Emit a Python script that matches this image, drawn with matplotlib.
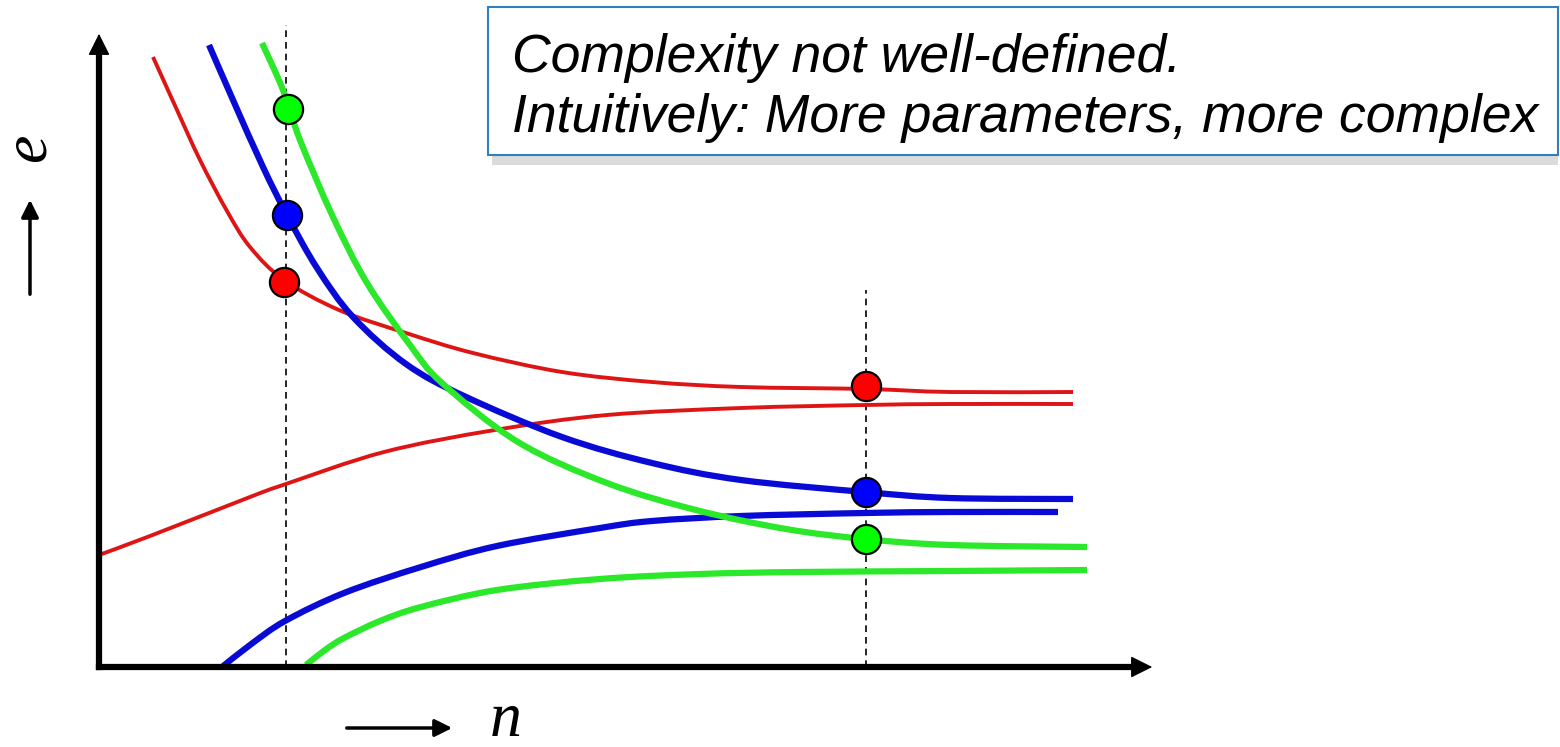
#!/usr/bin/env python3
"""
Learning curves sketch: test / training error vs. number of samples
for three models of growing complexity.
"""

import matplotlib
matplotlib.use('Agg')
import matplotlib.pyplot as plt
import numpy as np
from matplotlib.patches import Rectangle, PathPatch
from matplotlib.path import Path

# Data (n = sample size, e = error, both in sketch units)
red_test_n = [54, 78, 101, 128, 151, 185, 240, 307, 374, 463, 553, 642, 767, 851, 974]
red_test_e = [610, 557, 507, 456, 420, 387, 357, 334, 314, 295, 285, 280, 278, 275, 275]
red_train_n = [0, 51, 151, 184, 285, 396, 508, 642, 766, 851, 974]
red_train_e = [112, 131, 170, 182, 215, 237, 252, 259, 262, 263, 263]

blue_test_n = [110, 134, 164, 188, 218, 254, 307, 365, 463, 553, 642, 766, 851, 974]
blue_test_e = [622, 567, 500, 452, 399, 350, 303, 271, 230, 204, 187, 175, 169, 168]
blue_train_n = [123, 151, 186, 245, 322, 398, 501, 553, 642, 766, 851, 959]
blue_train_e = [0, 22, 46, 74, 100, 121, 139, 146, 151, 154, 155, 155]

green_test_n = [163, 184, 201, 234, 268, 311, 343, 419, 508, 597, 687, 766, 851, 988]
green_test_e = [624, 577, 527, 450, 384, 322, 284, 225, 184, 157, 138, 128, 122, 120]
green_train_n = [207, 226, 245, 281, 322, 398, 501, 601, 701, 851, 988]
green_train_e = [2, 17, 29, 46, 60, 77, 88, 93, 95, 96, 97]

# sample sizes that are compared, and the test error of each model there
n_small, n_large = 187, 767
marker_n = [189, 188, 185, 767, 767, 767]
marker_e = [558, 452, 385, 281, 175, 128]
marker_colors = ['#00ff00', '#0000ff', '#ff0000', '#ff0000', '#0000ff', '#00ff00']

box_lines = ['Complexity not well-defined.',
             'Intuitively: More parameters, more complex']


def smooth_curve(ax, xs, ys, color, lw):
	"""draw a smooth bezier (catmull-rom) through the given points"""
	p = np.column_stack([xs, ys]).astype(float)
	p = np.vstack([p[0], p, p[-1]])
	verts = [p[1]]
	codes = [Path.MOVETO]
	for i in range(1, len(p) - 2):
		c1 = p[i] + (p[i + 1] - p[i - 1]) / 6.0
		c2 = p[i + 1] - (p[i + 2] - p[i]) / 6.0
		verts += [c1, c2, p[i + 1]]
		codes += [Path.CURVE4] * 3
	ax.add_patch(PathPatch(Path(verts, codes), fill=False, edgecolor=color,
						   lw=lw, capstyle='butt', zorder=2))


def main():
	fig = plt.figure(figsize=(15.6, 7.47), dpi=100)
	ax = fig.add_axes([0, 0, 1, 1])
	ax.set_xlim(-99, 1461)
	ax.set_ylim(-80, 667)
	ax.axis('off')

	# dashed guides
	ax.plot([n_small, n_small], [0, 642], color='k', lw=1.2, ls=(0, (4, 3)), zorder=1)
	ax.plot([n_large, n_large], [0, 377], color='k', lw=1.2, ls=(0, (4, 3)), zorder=1)

	# curves
	smooth_curve(ax, red_test_n, red_test_e, '#dd1515', 2.8)
	smooth_curve(ax, red_train_n, red_train_e, '#dd1515', 2.8)
	smooth_curve(ax, blue_test_n, blue_test_e, '#0a0ad6', 4.5)
	smooth_curve(ax, blue_train_n, blue_train_e, '#0a0ad6', 4.5)
	smooth_curve(ax, green_test_n, green_test_e, '#2be82b', 4.5)
	smooth_curve(ax, green_train_n, green_train_e, '#2be82b', 4.5)

	for n, e, c in zip(marker_n, marker_e, marker_colors):
		ax.plot(n, e, 'o', ms=21, mfc=c, mec='k', mew=1.6, zorder=4)

	# main axes with arrow heads
	ax.plot([0, 0], [0, 615], color='k', lw=4.5, solid_capstyle='projecting', zorder=3)
	ax.plot([0, 1035], [0, 0], color='k', lw=4.5, solid_capstyle='projecting', zorder=3)
	ax.annotate('', xy=(0, 636), xytext=(0, 605),
				arrowprops=dict(arrowstyle='-|>', color='k', lw=1, mutation_scale=34), zorder=3)
	ax.annotate('', xy=(1056, 0), xytext=(1025, 0),
				arrowprops=dict(arrowstyle='-|>', color='k', lw=1, mutation_scale=34), zorder=3)

	# axis labels
	ax.annotate('', xy=(-69, 470), xytext=(-69, 370),
				arrowprops=dict(arrowstyle='-|>', color='k', lw=2.5, mutation_scale=26))
	ax.text(-69, 519, 'e', rotation=90, ha='center', va='center', fontsize=46,
			family='Liberation Serif', style='italic')
	ax.annotate('', xy=(356, -61), xytext=(245, -61),
				arrowprops=dict(arrowstyle='-|>', color='k', lw=2.5, mutation_scale=26))
	ax.text(407, -54, 'n', ha='center', va='center', fontsize=46,
			family='Liberation Serif', style='italic')

	# note box with shadow
	ax.add_patch(Rectangle((393, 502), 1066, 148, facecolor='#999999', alpha=0.35,
						   edgecolor='none', zorder=5))
	ax.add_patch(Rectangle((389, 512), 1070, 148, facecolor='white', edgecolor='#2f7fc1',
						   lw=1.5, zorder=6))
	ax.text(413, 609, box_lines[0], ha='left', va='center', fontsize=38.5,
			family='Liberation Sans', style='italic', zorder=7)
	ax.text(413, 549, box_lines[1], ha='left', va='center', fontsize=38.5,
			family='Liberation Sans', style='italic', zorder=7)

	fig.savefig('out.png', dpi=100)


if __name__ == '__main__':
	main()
